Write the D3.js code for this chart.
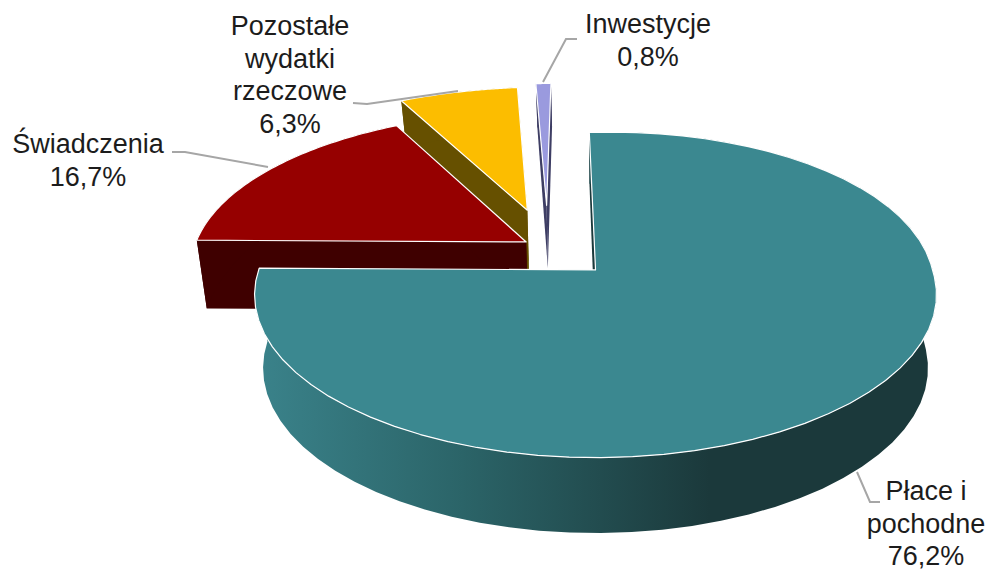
<!DOCTYPE html>
<html>
<head>
<meta charset="utf-8">
<script src="https://cdn.jsdelivr.net/npm/d3@7"></script>
<style>
  html, body { margin: 0; background: #fff; }
  text { font-family: "Liberation Sans", Arial, sans-serif; font-size: 27px; fill: #1c1c1c; text-anchor: middle; }
</style>
</head>
<body>
<div id="chart"></div>
<script>
// values as printed on the chart labels
const categories = ["Płace i pochodne", "Świadczenia", "Pozostałe wydatki rzeczowe", "Inwestycje"]
const shares = [76.2, 16.7, 6.3, 0.8]
const shareLabels = ["76,2%", "16,7%", "6,3%", "0,8%"]

const width = 991, height = 570

// excel style 3d pie: plane -> screen perspective
const cx = 595.5, cy = 270
const scaleX = 337, scaleY = 159, persp = 0.153, shear = 0.045
const bottomShrink = 0.975

// how far each slice is pulled out of the pie, in radii
const explode = [0.2, 0.085, 0.274, 0.297]
const origin = [-0.145, 0.138]

const faceColors = ["#3b8890", "#960000", "#fcbd00", "#9a9ade"]
const wallColors = ["#1b393b", "#3f0000", "#665000", "#3e3e64"]

// label blocks: text lines, centre x, first baseline, leader line
const labelBlocks = [
  { lines: ["Płace i", "pochodne"], x: 926, y: 500, leader: [[857, 472], [870, 502], [880, 502]] },
  { lines: ["Świadczenia"], x: 88, y: 153, leader: [[172, 152], [185, 152], [268, 167]] },
  { lines: ["Pozostałe", "wydatki", "rzeczowe"], x: 290, y: 35, leader: [[353, 103], [367, 104], [458, 91]] },
  { lines: ["Inwestycje"], x: 648, y: 33, leader: [[543, 82], [566, 39], [577, 39]] }
]
const lineStep = 32.5

function project(u, v, bottom) {
  let s = 1 + persp * v
  let w = v / s
  // the far half leans a little, less so out on the left
  let lean = shear * Math.max(v, 0) * Math.max(v, 1) * Math.max(0, 1 + 0.84 * Math.min(u, 0))
  let x = (u + lean) * scaleX / s
  let y = -scaleY * w
  if (bottom) {
    x = x * bottomShrink
    // wall is about 75px at the front and shorter towards the back
    y = y + 73 - (w < 0 ? 2 : 25) * w
  }
  return [cx + x, cy + y]
}

let svg = d3.select("#chart").append("svg")
  .attr("width", width)
  .attr("height", height)
  .style("display", "block")

let grad = svg.append("defs").append("linearGradient")
  .attr("id", "mainWall")
  .attr("gradientUnits", "userSpaceOnUse")
  .attr("x1", 260).attr("x2", 710).attr("y1", 0).attr("y2", 0)
grad.append("stop").attr("offset", "0%").attr("stop-color", "#3a828a")
grad.append("stop").attr("offset", "45%").attr("stop-color", "#2b6468")
grad.append("stop").attr("offset", "100%").attr("stop-color", "#1b393b")

let pie = d3.pie().sort(null).startAngle(-3.66 * Math.PI / 180).endAngle((360 - 3.66) * Math.PI / 180)
let slices = pie(shares)
let line = d3.line()

// far slices first, the big one goes on top
let order = [3, 2, 1, 0]
order.forEach(function (i) {
  let d = slices[i]
  let mid = (d.startAngle + d.endAngle) / 2
  let ax = origin[0] + explode[i] * Math.sin(mid)
  let ay = origin[1] + explode[i] * Math.cos(mid)
  let steps = d3.range(0, 61).map(t => d.startAngle + (d.endAngle - d.startAngle) * t / 60)
  let rim = steps.map(a => [ax + Math.sin(a), ay + Math.cos(a)])
  let g = svg.append("g").attr("class", "slice")

  let wall = function (pts, fill) {
    g.append("path").attr("d", line(pts) + "Z").attr("fill", fill)
  }
  let first = rim[0], last = rim[rim.length - 1]
  wall([project(ax, ay), project(first[0], first[1]), project(first[0], first[1], true), project(ax, ay, true)], wallColors[i])
  wall([project(ax, ay), project(last[0], last[1]), project(last[0], last[1], true), project(ax, ay, true)], wallColors[i])
  let outer = rim.map(p => project(p[0], p[1])).concat(rim.slice().reverse().map(p => project(p[0], p[1], true)))
  wall(outer, i === 0 ? "url(#mainWall)" : wallColors[i])

  let top = [project(ax, ay)].concat(rim.map(p => project(p[0], p[1])))
  g.append("path")
    .attr("d", line(top) + "Z")
    .attr("fill", faceColors[i])
    .attr("stroke", "#fff")
    .attr("stroke-width", 1.2)
    .attr("stroke-linejoin", "round")
})

let labels = svg.append("g").attr("class", "labels")
labelBlocks.forEach(function (b, i) {
  labels.append("path")
    .attr("d", line(b.leader))
    .attr("fill", "none")
    .attr("stroke", "#a6a6a6")
    .attr("stroke-width", 2)
  b.lines.concat([shareLabels[i]]).forEach(function (t, k) {
    labels.append("text").attr("x", b.x).attr("y", b.y + k * lineStep).text(t)
  })
})
</script>
</body>
</html>
